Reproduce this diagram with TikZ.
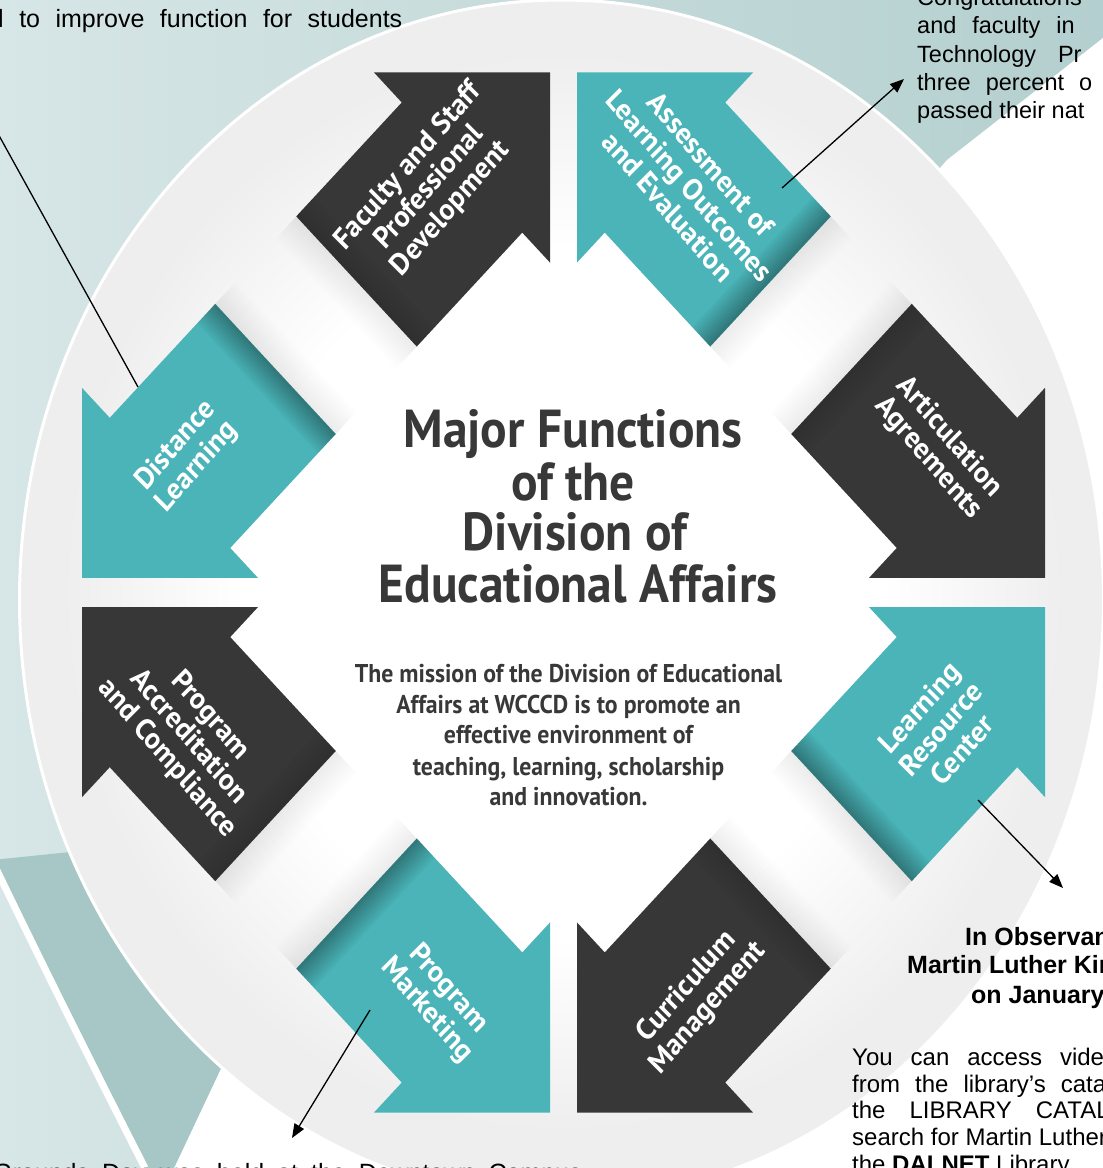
\documentclass[tikz,border=0pt]{standalone}
\usepackage{fontspec}
\setmainfont{Liberation Sans}
\newfontfamily\hum{PT Sans}
\usetikzlibrary{arrows.meta}
\definecolor{tealarrow}{HTML}{4AB4B8}
\definecolor{darkarrow}{HTML}{373737}
\definecolor{bgleft}{HTML}{D7E6E6}
\definecolor{bgright}{HTML}{B4CFCF}
\definecolor{wedgecol}{HTML}{A7C6C6}
\definecolor{ringgray}{HTML}{EEEEEE}
\definecolor{titlegray}{HTML}{383838}
\pgfdeclareradialshading{centerglow}{\pgfpoint{0bp}{0bp}}{color(0bp)=(white); color(16bp)=(white); color(25bp)=(ringgray); color(50bp)=(ringgray)}
\tikzset{
  darkshape/.style={fill=darkarrow},
  tealshape/.style={fill=tealarrow},
  arrowtext/.style={text=white, align=center, inner sep=0pt, yscale=1.08, font=\hum\bfseries\fontsize{28}{29}\selectfont},
  titletext/.style={text=titlegray, anchor=base, inner sep=0pt, yscale=1.08, font=\hum\bfseries\fontsize{49.5}{50}\selectfont},
  missiontext/.style={text=titlegray, anchor=base, inner sep=0pt, yscale=1.08, font=\hum\bfseries\fontsize{23.8}{24}\selectfont},
  bodytext/.style={anchor=base west, inner sep=0pt, font=\fontsize{24}{27}\selectfont},
  boldbody/.style={anchor=base west, inner sep=0pt, font=\bfseries\fontsize{25}{27}\selectfont},
  connector/.style={line width=1.3pt},
  pointer/.style={line width=1.3pt, -{Triangle[length=14pt,width=11pt]}},
}
% tail shading in the arrow frame: #1 = 1 (dark frame) or -1 (mirrored frame), #2 = inner darkening strength
\newcommand\TailShade[2]{%
  \foreach \i in {0,...,11}{%
    \pgfmathsetmacro\sa{81+3*\i}\pgfmathsetmacro\sb{84+3*\i}%
    \pgfmathsetmacro\op{#2*(1-\i/12)}%
    \fill[black, opacity=\op] ({(\sa+374.5)/2},{#1*(\sa-374.5)/2}) -- ({(\sa+615.5)/2},{#1*(\sa-615.5)/2}) -- ({(\sb+615.5)/2},{#1*(\sb-615.5)/2}) -- ({(\sb+374.5)/2},{#1*(\sb-374.5)/2}) -- cycle;
  }}
\newcommand\TailShadow[1]{%
  \foreach \i in {0,...,11}{%
    \pgfmathsetmacro\sa{81-3.5*\i}\pgfmathsetmacro\sb{77.5-3.5*\i}%
    \pgfmathsetmacro\op{0.07*(1-\i/12)}%
    \fill[black, opacity=\op] ({(\sa+374.5)/2},{#1*(\sa-374.5)/2}) -- ({(\sa+615.5)/2},{#1*(\sa-615.5)/2}) -- ({(\sb+615.5)/2},{#1*(\sb-615.5)/2}) -- ({(\sb+374.5)/2},{#1*(\sb-374.5)/2}) -- cycle;
  }}
\newcommand\DarkArrow[4]{%
  \begin{scope}[shift={(563.5,592.5)}, yscale=1.08, rotate=#2]
    \TailShadow{1}
    \fill[darkshape] (481.5,-13.5) -- (481.5,-189.5) -- (453.75,-161.75) -- (348.25,-267.25) -- (227.75,-146.75) -- (333.25,-41.25) -- (305.5,-13.5) -- cycle;
    \TailShade{1}{0.12}
    \node[arrowtext, rotate=#4] (#1) at (375,-134) {#3};
  \end{scope}}
\newcommand\TealArrow[4]{%
  \begin{scope}[shift={(563.5,592.5)}, yscale=1.08, rotate=#2]
    \TailShadow{-1}
    \fill[tealshape] (481.5,13.5) -- (481.5,189.5) -- (453.75,161.75) -- (348.25,267.25) -- (227.75,146.75) -- (333.25,41.25) -- (305.5,13.5) -- cycle;
    \TailShade{-1}{0.32}
    \node[arrowtext, rotate=#4] (#1) at (377,126) {#3};
  \end{scope}}
\begin{document}
\begin{tikzpicture}[x=1pt,y=-1pt]
\useasboundingbox (0,0) rectangle (1103,1168);
\clip (0,0) rectangle (1103,1168);
% background
\shade[left color=bgleft, right color=bgright] (0,0) rectangle (1103,1168);
\fill[white] (947,160) -- (1103,38) -- (1103,1168) -- (174,1168) -- (232,1045) -- (560,600) -- cycle;
\fill[wedgecol] (-8,860) .. controls (40,960) and (100,1080) .. (145,1168) -- (174,1168) -- (232,1045) -- (90,850) -- cycle;
\draw[white, line width=7pt] (-8,860) .. controls (40,960) and (100,1080) .. (145,1168);
% big disc
\fill[ringgray] (561.5,600) ellipse [x radius=542, y radius=600];
\shade[shading=centerglow] (563.5,592.5) ellipse [x radius=500, y radius=540];
\draw[white, line width=3pt] (561.5,600) ellipse [x radius=542, y radius=600];
% arrows
\DarkArrow{articulation}{0}{Articulation\\Agreements}{-47.2}
\DarkArrow{faculty}{90}{Faculty and Staff\\Professional\\Development}{47.2}
\DarkArrow{curriculum}{-90}{Curriculum\\Management}{47.2}
\DarkArrow{accreditation}{180}{Program\\Accreditation\\and Compliance}{-47.2}
\TealArrow{lrc}{0}{Learning\\Resource\\Center}{47.2}
\TealArrow{assessment}{90}{Assessment of\\Learning Outcomes\\and Evaluation}{-47.2}
\TealArrow{marketing}{-90}{Program\\Marketing}{-47.2}
\TealArrow{distance}{180}{Distance\\Learning}{47.2}
% title
\node[titletext] (title1) at (573,447) {Major Functions};
\node[titletext] (title2) at (573,500) {of the};
\node[titletext] (title3) at (575,550) {Division of};
\node[titletext] (title4) at (578,602) {Educational Affairs};
\node[missiontext] (m1) at (568.5,682) {The mission of the Division of Educational};
\node[missiontext] (m2) at (568.5,713) {Affairs at WCCCD is to promote an};
\node[missiontext] (m3) at (568.5,743) {effective environment of};
\node[missiontext] (m4) at (568.5,775) {teaching, learning, scholarship};
\node[missiontext] (m5) at (568.5,805) {and innovation.};
% outer texts
\node[bodytext, font=\fontsize{25}{27}\selectfont] (tl1) at (-2,27) {\spaceskip=15.5pt l to improve function for students};
\node[bodytext, font=\fontsize{23.5}{27}\selectfont] (tr0) at (917,5) {Congratulations};
\node[bodytext, font=\fontsize{23.5}{27}\selectfont] (tr1) at (917,33) {\spaceskip=16pt and faculty in};
\node[bodytext, font=\fontsize{23.5}{27}\selectfont] (tr2) at (917,62) {\spaceskip=22pt Technology Pr};
\node[bodytext, font=\fontsize{23.5}{27}\selectfont] (tr3) at (917,90) {\spaceskip=15pt three percent o};
\node[bodytext, font=\fontsize{23.5}{27}\selectfont] (tr4) at (917,118) {passed their nat};
\node[boldbody] (br1) at (965,945) {In Observance};
\node[boldbody] (br2) at (907,973) {Martin Luther King};
\node[boldbody] (br3) at (971,1003) {on January};
\node[bodytext] (br4) at (852,1065) {\spaceskip=18pt You can access videos};
\node[bodytext] (br5) at (852,1092) {\spaceskip=15pt from the library's catalog};
\node[bodytext] (br6) at (852,1118) {\spaceskip=24pt the LIBRARY CATALOG};
\node[bodytext] (br7) at (852,1145) {search for Martin Luther};
\node[bodytext] (br8) at (852,1172) {the \textbf{DALNET} Library};
\node[bodytext, font=\fontsize{25}{27}\selectfont] (bl1) at (-7,1181) {\spaceskip=13pt Grounds Day was held at the Downtown Campus};
% connectors
\coordinate (pDL) at (138,387);
\coordinate (pTL) at (-14,112);
\draw[connector] (pDL) -- (pTL);
\coordinate (pAS) at (782,188);
\coordinate (pTR) at (904,79);
\draw[pointer] (pAS) -- (pTR);
\coordinate (pLR) at (978,800);
\coordinate (pBR) at (1063,888);
\draw[pointer] (pLR) -- (pBR);
\coordinate (pPM) at (370,1010);
\coordinate (pBL) at (292,1138);
\draw[pointer] (pPM) -- (pBL);
\end{tikzpicture}
\end{document}
